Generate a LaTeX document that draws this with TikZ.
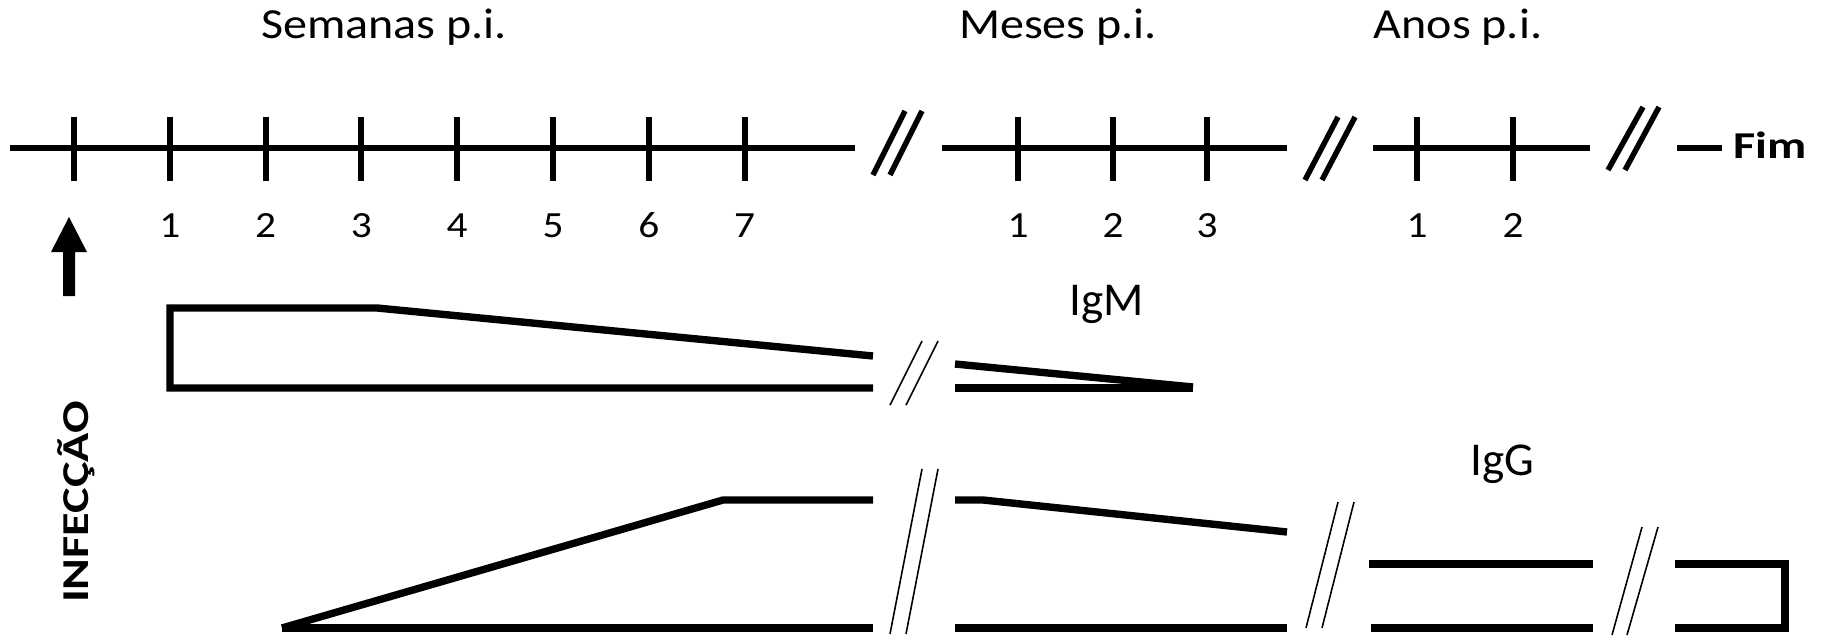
\documentclass[tikz,border=0pt]{standalone}
\usepackage{fontspec}
\setmainfont{Carlito}
\newfontfamily\widefont[FakeStretch=1.12]{Carlito}
\newfontfamily\widebold[FakeStretch=1.27]{Carlito}
\usepackage{tikz}

\tikzset{
  axisline/.style={line width=1.7pt},
  brkthick/.style={line width=1.55pt},
  brkthin/.style={line width=0.45pt},
  ablevel/.style={line width=2.1pt},
  titlelabel/.style={font=\widefont\fontsize{12.2}{14}\selectfont, anchor=base, inner sep=0pt},
  numlabel/.style={font=\widefont\fontsize{10.5}{12}\selectfont, anchor=base, inner sep=0pt},
  boldlabel/.style={font=\widebold\bfseries\fontsize{10.8}{12}\selectfont, inner sep=0pt},
  ablabel/.style={font=\fontsize{13.4}{15}\selectfont, anchor=base, inner sep=0pt}
}

\begin{document}
\begin{tikzpicture}[x=0.01cm, y=-0.01cm]
    \useasboundingbox (0,0) rectangle (1821,636);

    %% Period titles
    \node[titlelabel] (weeks)  at (384,38)  {Semanas p.i.};
    \node[titlelabel] (months) at (1058,38) {Meses p.i.};
    \node[titlelabel] (years)  at (1458,38) {Anos p.i.};

    %% Time axis (three pieces with breaks)
    \draw[axisline] (10,148) -- (855,148);
    \draw[axisline] (942,148) -- (1287,148);
    \draw[axisline] (1373,148) -- (1590,148);
    \draw[axisline] (1677,148) -- (1722,148);
    \node[boldlabel, anchor=base west] (fim) at (1733,158) {Fim};

    %% Ticks -- weeks
    \foreach \k in {0,...,7} {
      \draw[axisline] ({74+95.8*\k},117) -- ({74+95.8*\k},181);
    }
    \foreach \k in {1,...,7} {
      \node[numlabel] (w\k) at ({74+95.8*\k},237) {\k};
    }

    %% Ticks -- months
    \foreach \x/\k in {1018/1,1113/2,1207/3} {
      \draw[axisline] (\x,117) -- (\x,181);
      \node[numlabel] (m\k) at (\x,237) {\k};
    }

    %% Ticks -- years
    \foreach \x/\k in {1417/1,1513/2} {
      \draw[axisline] (\x,117) -- (\x,181);
      \node[numlabel] (y\k) at (\x,237) {\k};
    }

    %% Axis breaks
    \draw[brkthick] (873,175) -- (905,111);
    \draw[brkthick] (890,175) -- (922,111);
    \draw[brkthick] (1305,180) -- (1338,117);
    \draw[brkthick] (1322,180) -- (1355,117);
    \draw[brkthick] (1608,170) -- (1643,107);
    \draw[brkthick] (1625,170) -- (1659,107);

    %% Infection arrow
    \fill (63,296) -- (75,296) -- (75,252) -- (87,252) -- (69,217)
      -- (51,252) -- (63,252) -- cycle;
    \node[boldlabel, rotate=90, anchor=base] (infec) at (88,502) {INFECÇÃO};

    %% IgM
    \draw[ablevel] (873,356) -- (377,308) -- (170,308) -- (170,388) -- (873,388);
    \draw[brkthin] (890,405) -- (922,341);
    \draw[brkthin] (906,405) -- (938,341);
    \draw[ablevel] (955,364) -- (1193,387);
    \draw[ablevel] (955,388) -- (1193,388);
    \node[ablabel] (igm) at (1107,315) {IgM};

    %% IgG
    \draw[ablevel] (873,500) -- (723,500) -- (282,628);
    \draw[ablevel] (282,628) -- (873,628);
    \draw[brkthin] (890,634) -- (922,469);
    \draw[brkthin] (906,634) -- (938,469);
    \draw[ablevel] (955,500) -- (983,500) -- (1287,532);
    \draw[ablevel] (955,628) -- (1287,628);
    \draw[brkthin] (1306,628) -- (1338,502);
    \draw[brkthin] (1322,628) -- (1354,502);
    \draw[ablevel] (1369,564) -- (1593,564);
    \draw[ablevel] (1371,628) -- (1593,628);
    \draw[brkthin] (1612,635) -- (1642,527);
    \draw[brkthin] (1627,635) -- (1658,527);
    \draw[ablevel] (1675,564) -- (1785,564) -- (1785,628) -- (1675,628);
    \node[ablabel] (igg) at (1502,475) {IgG};

  \end{tikzpicture}
\end{document}
